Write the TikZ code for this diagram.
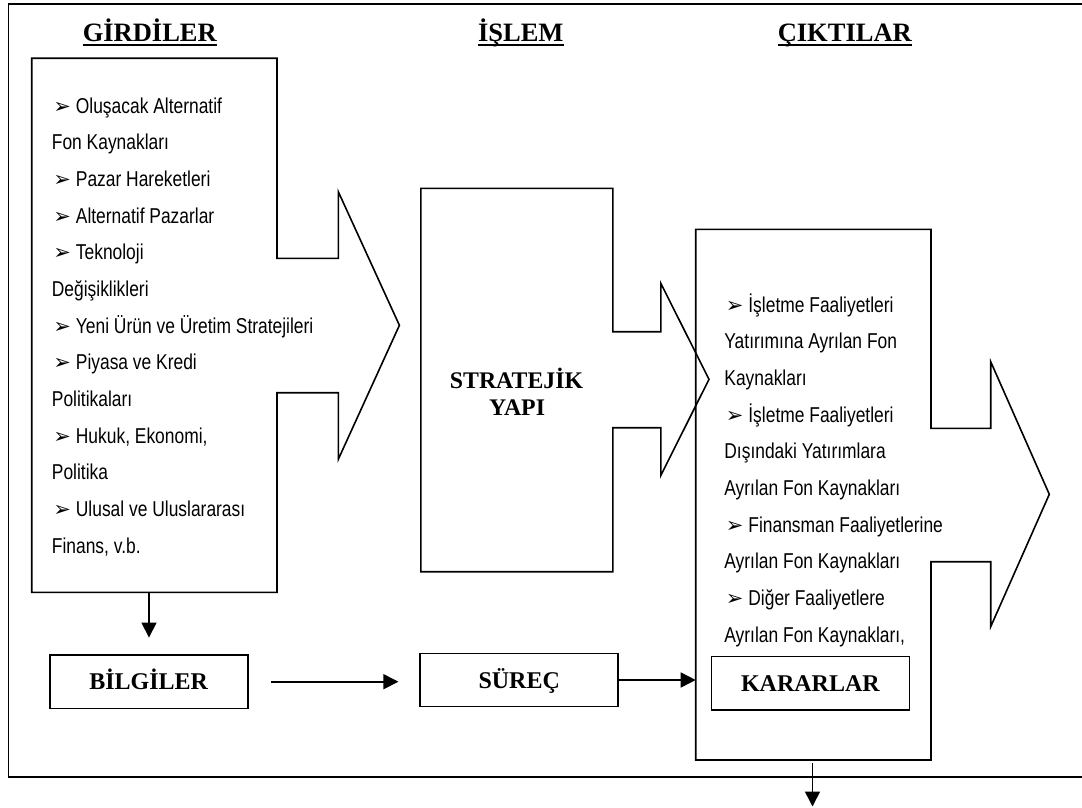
\documentclass[tikz,border=0pt]{standalone}
\usepackage{fontspec}
\setmainfont{Liberation Serif}
\newfontfamily\narrowsans[FakeStretch=0.81]{Liberation Sans}
\newfontfamily\dejavu{DejaVu Sans}
\usetikzlibrary{arrows.meta}
\newcommand\bul{\makebox[24pt][l]{\hspace{1.5pt}{\dejavu\fontsize{21}{21}\selectfont ➢}}}
\tikzset{
  shapeline/.style={line width=1.6pt, line join=miter},
  txt/.style={anchor=base west, inner sep=0pt, font=\narrowsans\fontsize{21.5}{24}\selectfont},
  head/.style={anchor=base, inner sep=0pt, font=\bfseries\fontsize{26.5}{30}\selectfont},
  mid/.style={anchor=base, inner sep=0pt, font=\bfseries\fontsize{23.8}{28}\selectfont},
  lbl/.style={draw, line width=1.6pt, font=\bfseries\fontsize{24}{28}\selectfont,
    text height=16pt, text depth=0pt, inner sep=0pt, minimum width=198pt, minimum height=53.3pt},
  arr/.style={line width=1.6pt, -{Triangle[length=15pt,width=15pt]}},
  uline/.style={line width=2pt},
}
\begin{document}
\begin{tikzpicture}[x=1pt,y=-1pt]
\clip (0,0) rectangle (1082,808);
% outer frame (right side falls outside the picture)
\draw[shapeline] (1100,4) -- (8.3,4) -- (8.3,776.7) -- (1100,776.7);

% headings
\node[head] (h1) at (149.8,41.7) {GİRDİLER};
\node[head] (h2) at (520.8,41.7) {İŞLEM};
\node[head] (h3) at (844.8,41.7) {ÇIKTILAR};
\foreach \h in {h1,h2,h3}
  \draw[uline] ([yshift=-3.6pt]\h.base west) -- ([yshift=-3.6pt]\h.base east);

% input arrow shape
\draw[shapeline] (31.7,58.3) -- (277,58.3) -- (277,258.3) -- (338.3,258.3) -- (338.3,191.7)
  -- (399.4,325.3) -- (338.3,459.3) -- (338.3,392.7) -- (277,392.7) -- (277,592.3)
  -- (31.7,592.3) -- cycle;
\coordinate (lbot) at (149,592.3);

% middle arrow shape
\draw[shapeline] (420.8,188.3) -- (612.8,188.3) -- (612.8,331.7) -- (660.8,331.7) -- (660.8,283.3)
  -- (709,379.3) -- (660.8,475.5) -- (660.8,427.7) -- (612.8,427.7) -- (612.8,571.7)
  -- (420.8,571.7) -- cycle;

% output arrow shape
\draw[shapeline] (695.7,229.3) -- (931,229.3) -- (931,428.3) -- (990.7,428.3) -- (990.7,361.7)
  -- (1049.3,494.3) -- (990.7,626.7) -- (990.7,561.7) -- (931,561.7) -- (931,760)
  -- (695.7,760) -- cycle;
\coordinate (rleft) at (695.7,680);
\coordinate (rbot) at (812.5,760);
\coordinate (out) at (812.5,806.5);

% left list
\foreach \t [count=\i] in {{\bul Oluşacak Alternatif},{Fon Kaynakları},{\bul Pazar Hareketleri},
  {\bul Alternatif Pazarlar},{\bul Teknoloji},{Değişiklikleri},{\bul Yeni Ürün ve Üretim Stratejileri},
  {\bul Piyasa ve Kredi},{Politikaları},{\bul Hukuk, Ekonomi,},{Politika},
  {\bul Ulusal ve Uluslararası},{Finans, v.b.}}
  \node[txt] (L\i) at (51.7,{113.3+(\i-1)*36.667}) {\t};

% right list
\foreach \t [count=\i] in {{\bul İşletme Faaliyetleri},{Yatırımına Ayrılan Fon},{Kaynakları},
  {\bul İşletme Faaliyetleri},{Dışındaki Yatırımlara},{Ayrılan Fon Kaynakları},
  {\bul Finansman Faaliyetlerine},{Ayrılan Fon Kaynakları},{\bul Diğer Faaliyetlere},
  {Ayrılan Fon Kaynakları,}}
  \node[txt] (R\i) at (724.2,{312.3+(\i-1)*36.667}) {\t};

% middle label
\node[mid] (s1) at (516.5,388.3) {STRATEJİK};
\node[mid] (s2) at (517,415) {YAPI};

% boxes
\node[lbl] (bil) at (148.7,681.7) {BİLGİLER};
\node[lbl] (sur) at (519.2,680) {SÜREÇ};
\node[lbl] (kar) at (810.4,683.3) {KARARLAR};

% connectors
\draw[arr, shorten >=16.7pt] (lbot) -- (lbot |- bil.north);
\draw[arr, shorten <=22.3pt, shorten >=21pt] (bil.east) -- (bil.east -| sur.west);
\draw[arr] (sur.east) -- (rleft);
\draw[arr, shorten <=3pt] (rbot) -- (out);
\end{tikzpicture}
\end{document}
